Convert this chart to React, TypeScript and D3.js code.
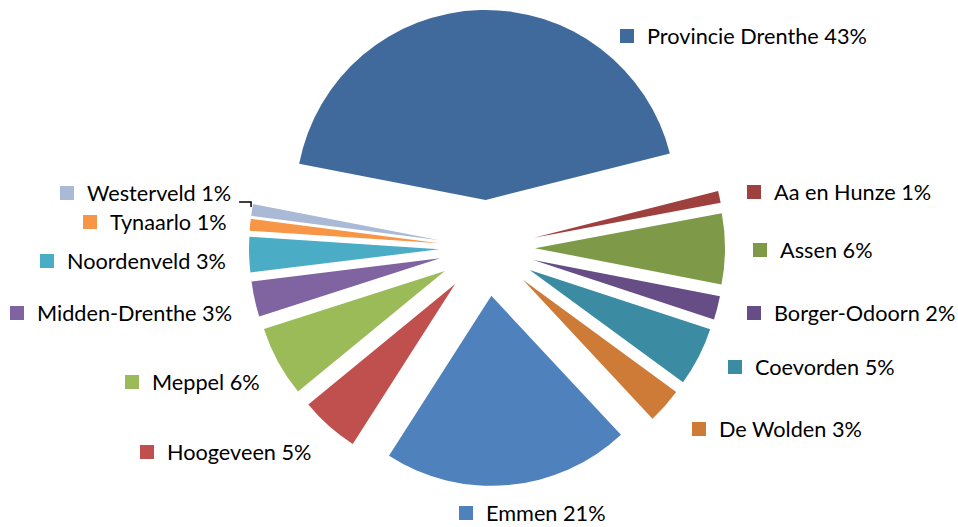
import * as d3 from "d3";
import { useRef, useEffect } from "react";

// municipality shares (percent)
const names = [
  "Provincie Drenthe", "Aa en Hunze", "Assen", "Borger-Odoorn", "Coevorden",
  "De Wolden", "Emmen", "Hoogeveen", "Meppel", "Midden-Drenthe",
  "Noordenveld", "Tynaarlo", "Westerveld",
];
const shares = [43, 1, 6, 2, 5, 3, 21, 5, 6, 3, 3, 1, 1];
const colors = [
  "#416A9C", "#9E413E", "#7E9A49", "#664D85", "#3B8CA3", "#CD7B37",
  "#4F81BD", "#C0504D", "#9BBB59", "#8064A2", "#4BACC6", "#F79646", "#A9B9D6",
];
// label anchor: left edge of the colour square, vertical middle
const labelAt: [number, number][] = [
  [620, 36], [747, 192], [753, 250], [747, 313], [728, 367], [692, 429],
  [459, 513], [140, 452], [125, 382], [10, 313], [40, 261], [83, 222], [60, 193],
];

const width = 958, height = 527;
const cx = 487, cy = 248;
const radius = 190;
const explode = 48;
const startDeg = -79;

export default function App() {
  const ref = useRef<SVGSVGElement>(null);

  useEffect(() => {
    const svg = d3.select(ref.current);
    svg.selectAll("*").remove();

    const pie = d3.pie<number>()
      .sort(null)
      .value(d => d)
      .startAngle(startDeg * Math.PI / 180)
      .endAngle(startDeg * Math.PI / 180 + 2 * Math.PI);
    const arcs = pie(shares);
    const arc = d3.arc<d3.PieArcDatum<number>>().innerRadius(0).outerRadius(radius);

    const g = svg.append("g").attr("transform", `translate(${cx},${cy})`);
    g.selectAll("path")
      .data(arcs)
      .join("path")
      .attr("d", arc)
      .attr("fill", (d, i) => colors[i])
      .attr("transform", d => {
        const a = (d.startAngle + d.endAngle) / 2;
        return `translate(${explode * Math.sin(a)},${-explode * Math.cos(a)})`;
      });

    const labels = svg.append("g")
      .style("font-family", "Lato, 'Open Sans', sans-serif")
      .style("font-size", "21.7px");
    names.forEach((n, i) => {
      const [x, y] = labelAt[i];
      labels.append("rect")
        .attr("x", x).attr("y", y - 7)
        .attr("width", 14).attr("height", 14)
        .attr("fill", colors[i]);
      labels.append("text")
        .attr("x", x + 27).attr("y", y)
        .attr("dy", "0.36em")
        .attr("fill", "#000")
        .text(`${n} ${shares[i]}%`);
    });

    // leader line for Westerveld
    const w = arcs[12];
    const a = (w.startAngle + w.endAngle) / 2;
    const ex = cx + (explode + radius) * Math.sin(a);
    const ey = cy - (explode + radius) * Math.cos(a);
    const ly = labelAt[12][1] + 9;
    svg.append("path")
      .attr("d", `M${ex - 13},${ly} H${ex - 1} V${ey - 3}`)
      .attr("fill", "none")
      .attr("stroke", "#000")
      .attr("stroke-width", 1.5);
  }, []);

  return (
    <svg
      ref={ref}
      width={width}
      height={height}
      style={{ position: "absolute", left: 0, top: 0, display: "block", background: "#fff" }}
    />
  );
}
